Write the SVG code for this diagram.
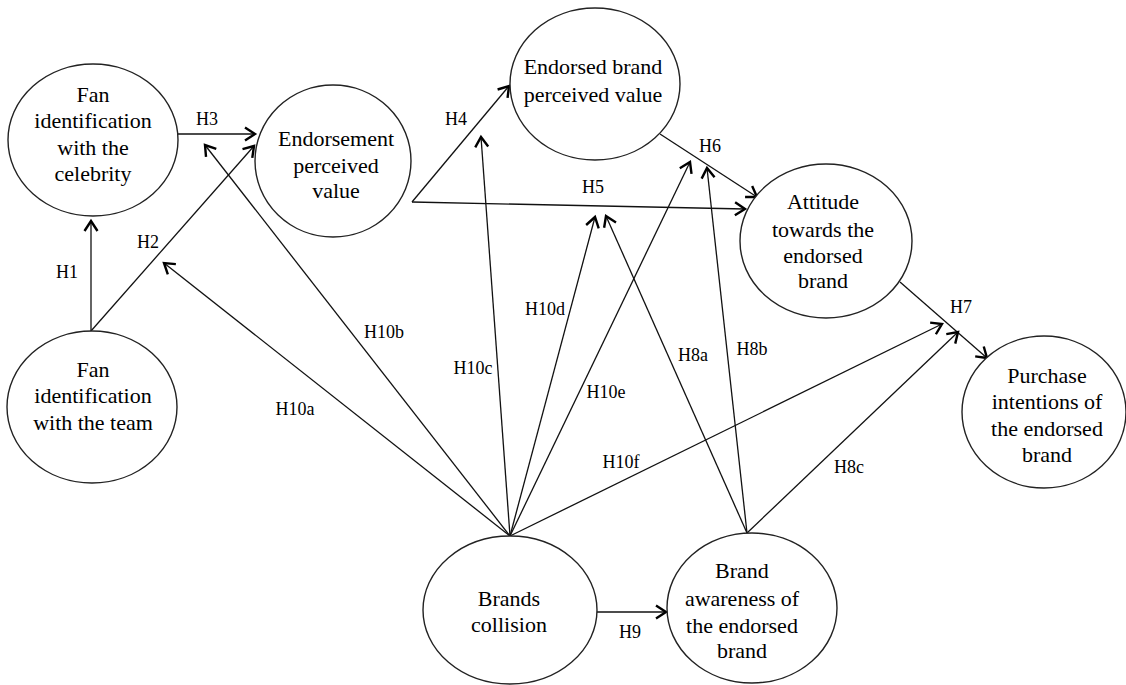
<svg xmlns="http://www.w3.org/2000/svg" width="1126" height="685" viewBox="0 0 1126 685">
<style>
.node ellipse{fill:#fff;stroke:#222;stroke-width:1.4}
.node text{font-family:"Liberation Serif","Times New Roman",serif;font-size:22px;fill:#000;text-anchor:middle}
.lbl{font-family:"Liberation Serif","Times New Roman",serif;font-size:18px;fill:#000;text-anchor:middle}
.edge{stroke:#111;stroke-width:1.3;fill:none;marker-end:url(#arr)}
</style>
<defs>
<marker id="arr" markerUnits="userSpaceOnUse" markerWidth="20" markerHeight="20" viewBox="-12 -10 14 20" refX="0" refY="0" orient="auto" overflow="visible">
<path d="M-10,-6.5 L0,0 L-10,6.5" fill="none" stroke="#000" stroke-width="2.4" stroke-linejoin="miter"/>
</marker>
</defs>
<rect width="1126" height="685" fill="#fff"/>
<g id="connectors">
<line class="edge" x1="91" y1="331" x2="91" y2="221"/>
<line class="edge" x1="91" y1="331" x2="254" y2="146"/>
<line class="edge" x1="178" y1="134" x2="255" y2="134"/>
<line class="edge" x1="412" y1="202" x2="509" y2="86"/>
<line class="edge" x1="412" y1="202" x2="745" y2="209"/>
<line class="edge" x1="660" y1="134" x2="757" y2="197"/>
<line class="edge" x1="900" y1="282" x2="987" y2="358"/>
<line class="edge" x1="747" y1="533" x2="606" y2="216"/>
<line class="edge" x1="747" y1="533" x2="707" y2="168"/>
<line class="edge" x1="747" y1="533" x2="958" y2="332"/>
<line class="edge" x1="597" y1="612" x2="666" y2="612"/>
<line class="edge" x1="510" y1="536" x2="164" y2="263"/>
<line class="edge" x1="510" y1="536" x2="205" y2="145"/>
<line class="edge" x1="510" y1="536" x2="481" y2="137"/>
<line class="edge" x1="510" y1="536" x2="595" y2="217"/>
<line class="edge" x1="510" y1="536" x2="690" y2="162"/>
<line class="edge" x1="510" y1="536" x2="942" y2="324"/>
</g>
<g id="labels">
<text class="lbl" x="67" y="278">H1</text>
<text class="lbl" x="148" y="248">H2</text>
<text class="lbl" x="207" y="125">H3</text>
<text class="lbl" x="456" y="125">H4</text>
<text class="lbl" x="593" y="193">H5</text>
<text class="lbl" x="710" y="152">H6</text>
<text class="lbl" x="961" y="313">H7</text>
<text class="lbl" x="693" y="361">H8a</text>
<text class="lbl" x="752" y="355">H8b</text>
<text class="lbl" x="849" y="473">H8c</text>
<text class="lbl" x="630" y="638">H9</text>
<text class="lbl" x="295" y="415">H10a</text>
<text class="lbl" x="384" y="338">H10b</text>
<text class="lbl" x="473" y="374">H10c</text>
<text class="lbl" x="545" y="315">H10d</text>
<text class="lbl" x="606" y="398">H10e</text>
<text class="lbl" x="621" y="468">H10f</text>
</g>
<g id="fan-celebrity" class="node">
<ellipse cx="93" cy="140" rx="85" ry="76"/>
<text x="93" y="102">Fan</text>
<text x="93" y="128">identification</text>
<text x="93" y="155">with the</text>
<text x="93" y="181">celebrity</text>
</g>
<g id="endorsement-value" class="node">
<ellipse cx="333" cy="161" rx="78" ry="76"/>
<text x="336" y="146">Endorsement</text>
<text x="336" y="173">perceived</text>
<text x="336" y="198">value</text>
</g>
<g id="endorsed-brand-value" class="node">
<ellipse cx="595" cy="84" rx="85" ry="76"/>
<text x="593" y="74">Endorsed brand</text>
<text x="593" y="102">perceived value</text>
</g>
<g id="attitude" class="node">
<ellipse cx="826" cy="241" rx="86" ry="77"/>
<text x="823" y="209">Attitude</text>
<text x="823" y="237">towards the</text>
<text x="823" y="263">endorsed</text>
<text x="823" y="288">brand</text>
</g>
<g id="purchase" class="node">
<ellipse cx="1044" cy="412" rx="82" ry="76"/>
<text x="1047" y="383">Purchase</text>
<text x="1047" y="409">intentions of</text>
<text x="1047" y="436">the endorsed</text>
<text x="1047" y="462">brand</text>
</g>
<g id="fan-team" class="node">
<ellipse cx="92" cy="407" rx="85" ry="76"/>
<text x="93" y="377">Fan</text>
<text x="93" y="403">identification</text>
<text x="93" y="430">with the team</text>
</g>
<g id="brands-collision" class="node">
<ellipse cx="510" cy="610" rx="87" ry="74"/>
<text x="509" y="606">Brands</text>
<text x="509" y="632">collision</text>
</g>
<g id="brand-awareness" class="node">
<ellipse cx="752" cy="608" rx="85" ry="75"/>
<text x="742" y="578">Brand</text>
<text x="742" y="606">awareness of</text>
<text x="742" y="633">the endorsed</text>
<text x="742" y="658">brand</text>
</g>
</svg>
